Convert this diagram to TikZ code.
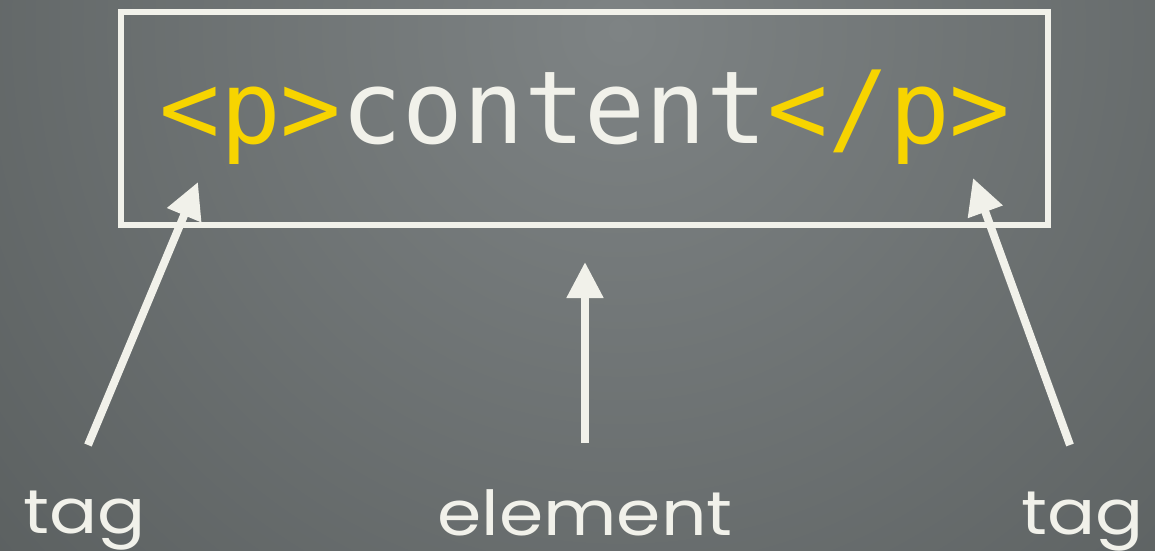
\documentclass[tikz,border=0pt]{standalone}
\usepackage{fontspec}
\usetikzlibrary{arrows.meta}
\newfontfamily\codefont{DejaVu Sans Mono}
\newfontfamily\labelfont{Poppins}
\definecolor{bgin}{HTML}{7E8384}
\definecolor{bgout}{HTML}{525757}
\definecolor{chalk}{HTML}{F1F1EA}
\definecolor{tagyellow}{HTML}{F7D400}
\tikzset{
  pointer/.style={draw=chalk, line width=8pt, -{Triangle[length=36pt,width=35pt]}},
  labeltext/.style={text=chalk, inner sep=0pt, anchor=base, text depth=0pt, xscale=1.15, font=\labelfont\fontsize{62}{62}\selectfont},
  codetext/.style={inner sep=0pt, anchor=base, font=\codefont\fontsize{101}{101}\selectfont},
  frame/.style={draw=chalk, line width=5.5pt}
}
\begin{document}
\begin{tikzpicture}[x=1pt,y=-1pt]
\useasboundingbox (0,0) rectangle (1155,550);
\begin{scope}
\clip (0,0) rectangle (1155,550);
\shade[inner color=bgin, outer color=bgout] (620,30) circle (1050);
\end{scope}
\draw[frame] (121,12) rectangle (1048,225);
\node[codetext] (code) at (585,143) {\textcolor{tagyellow}{<p>}\textcolor{chalk}{content}\textcolor{tagyellow}{</p>}};
\node[labeltext] (tagl) at (85,533) {tag};
\node[labeltext] (elem) at (585,535) {element};
\node[labeltext] (tagr) at (1083,534) {tag};
\coordinate (tagltail) at (88,445);
\coordinate (taglhead) at (198,182);
\coordinate (elemtail) at (585,443);
\coordinate (elemhead) at (585,262);
\coordinate (tagrtail) at (1070,445);
\coordinate (tagrhead) at (973,178);
\draw[pointer] (tagltail) -- (taglhead);
\draw[pointer] (elemtail) -- (elemhead);
\draw[pointer] (tagrtail) -- (tagrhead);
\end{tikzpicture}
\end{document}
